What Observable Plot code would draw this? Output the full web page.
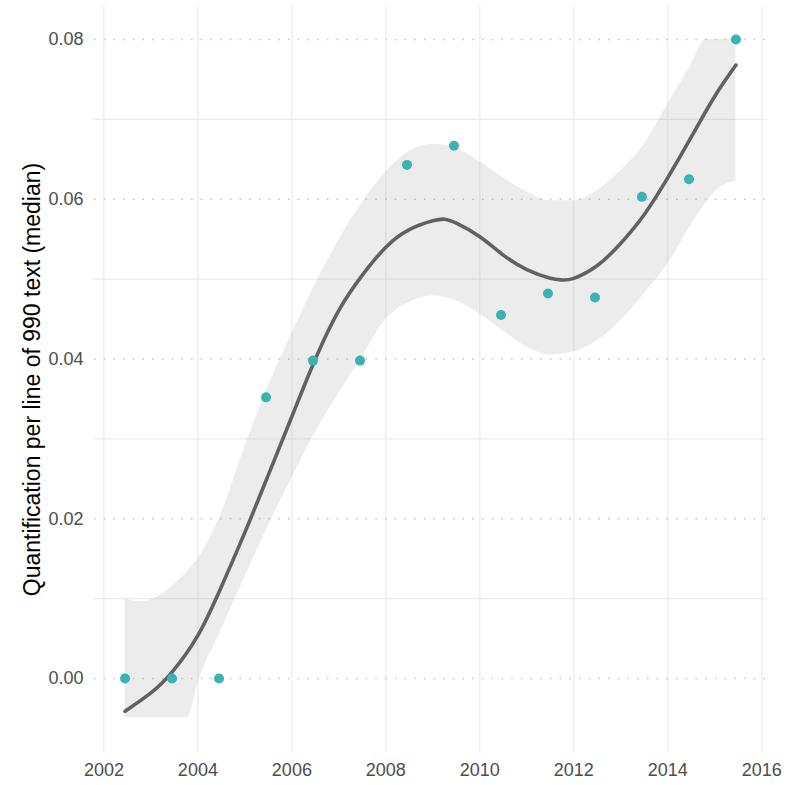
<!DOCTYPE html>
<html><head><meta charset="utf-8">
<script src="https://cdn.jsdelivr.net/npm/d3@7"></script>
<script src="https://cdn.jsdelivr.net/npm/@observablehq/plot@0.6"></script>
<style>body{margin:0;background:#fff}</style>
</head><body><div id="chart"></div>
<script>
// observed medians
const years = [2002.45, 2003.45, 2004.45, 2005.45, 2006.45, 2007.45, 2008.45, 2009.45, 2010.45, 2011.45, 2012.45, 2013.45, 2014.45, 2015.45];
const medians = [0, 0, 0, 0.0352, 0.0398, 0.0398, 0.0643, 0.0667, 0.0455, 0.0482, 0.0477, 0.0603, 0.0625, 0.0800];

// smooth fit
const fitX = [2002.45, 2003, 2003.45, 2004, 2004.5, 2005, 2005.5, 2006, 2006.5, 2007, 2007.5, 2008, 2008.5, 2009, 2009.25, 2009.5, 2010, 2010.5, 2011, 2011.5, 2011.75, 2012, 2012.5, 2013, 2013.5, 2014, 2014.5, 2015, 2015.45];
const fitY = [-0.0041, -0.0018, 0.0008, 0.0054, 0.0115, 0.0183, 0.0255, 0.0328, 0.0400, 0.0461, 0.0505, 0.0540, 0.0562, 0.0573, 0.0575, 0.0570, 0.0553, 0.0530, 0.0512, 0.0501, 0.0499, 0.0501, 0.0517, 0.0545, 0.0581, 0.0627, 0.0678, 0.0729, 0.0768];

// confidence band
const bandX = [2002.45, 2002.8, 2003.25, 2003.5, 2003.78, 2004, 2004.5, 2005, 2005.5, 2006, 2006.5, 2007, 2007.5, 2008, 2008.5, 2009, 2009.5, 2010, 2010.5, 2011, 2011.5, 2012, 2012.5, 2013, 2013.5, 2014, 2014.5, 2014.81, 2015, 2015.45];
const bandHi = [0.0100, 0.0096, 0.0106, 0.0118, 0.0134, 0.0150, 0.0207, 0.0290, 0.0366, 0.0432, 0.0494, 0.0549, 0.0596, 0.0634, 0.0660, 0.0669, 0.0664, 0.0647, 0.0627, 0.0609, 0.0598, 0.0598, 0.0611, 0.0636, 0.0669, 0.0719, 0.0769, 0.0800, 0.0800, 0.0800];
const bandLo = [-0.0049, -0.0049, -0.0049, -0.0049, -0.0049, -0.0006, 0.0061, 0.0127, 0.0191, 0.0251, 0.0308, 0.0357, 0.0403, 0.0450, 0.0471, 0.0479, 0.0473, 0.0456, 0.0435, 0.0415, 0.0405, 0.0409, 0.0423, 0.0448, 0.0482, 0.0519, 0.0568, 0.0595, 0.0609, 0.0623];

const xTicks = [2002, 2004, 2006, 2008, 2010, 2012, 2014, 2016];
const yTicks = [0, 0.02, 0.04, 0.06, 0.08];
const yMinor = [0.01, 0.03, 0.05, 0.07];
const yLabel = "Quantification per line of 990 text (median)";

const points = years.map((x, i) => ({x, y: medians[i]}));
const fit = fitX.map((x, i) => ({x, y: fitY[i]}));
const band = bandX.map((x, i) => ({x, lo: bandLo[i], hi: bandHi[i]}));

const chart = Plot.plot({
  width: 792, height: 785,
  marginLeft: 94, marginRight: 26, marginTop: 6, marginBottom: 33,
  style: {fontFamily: "'Liberation Sans', Arial, Helvetica, sans-serif", background: "#fff"},
  x: {domain: [2001.8, 2016.1]},
  y: {domain: [-0.00926, 0.08413]},
  marks: [
    Plot.ruleX(xTicks, {stroke: "#ebebeb", strokeWidth: 1.2}),
    Plot.ruleY(yMinor, {stroke: "#ebebeb", strokeWidth: 1.2}),
    Plot.ruleY(yTicks, {stroke: "#c6c6c6", strokeWidth: 1.4, strokeDasharray: "1.6,8.1"}),
    Plot.areaY(band, {x: "x", y1: "lo", y2: "hi", fill: "#999", fillOpacity: 0.19, curve: "monotone-x"}),
    Plot.line(fit, {x: "x", y: "y", stroke: "#616161", strokeWidth: 3.6, curve: "natural"}),
    Plot.dot(points, {x: "x", y: "y", r: 5, fill: "#3bb3b3", stroke: null}),
    Plot.axisX({ticks: xTicks, tickSize: 0, tickPadding: 11, fontSize: 18, color: "#4d4d4d", tickFormat: d => String(d), label: null}),
    Plot.axisY({ticks: yTicks, tickSize: 0, tickPadding: 11, fontSize: 18, color: "#4d4d4d", tickFormat: d3.format(".2f"), label: null}),
    Plot.text([yLabel], {text: d => d, frameAnchor: "left", textAnchor: "middle", rotate: -90, dx: -62, fontSize: 23, fill: "#000"})
  ]
});
document.getElementById("chart").appendChild(chart);
</script>
</body></html>
